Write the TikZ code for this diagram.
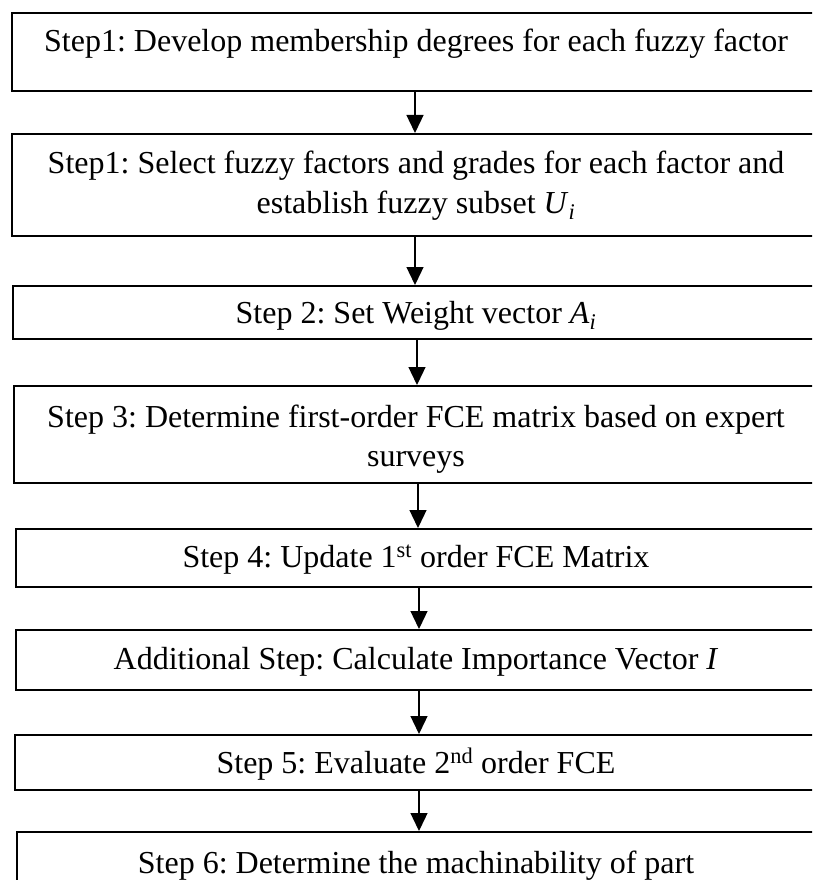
\documentclass[tikz,border=0pt]{standalone}
\usepackage{fontspec}
\setmainfont{Liberation Serif}
\usetikzlibrary{arrows.meta}
\frenchspacing
\begin{document}
\begin{tikzpicture}[x=1pt,y=-1pt,
  stepbox/.style={draw, rectangle, line width=1.8pt, inner sep=0pt,
                  minimum width=807pt, anchor=north west},
  steptext/.style={anchor=base, inner sep=0pt,
                   font=\fontsize{32}{40}\selectfont},
  flow/.style={line width=1.3pt, -{Triangle[width=17pt,length=18pt]}}]
\useasboundingbox (0,0) rectangle (812,880);
\clip (0,0) rectangle (812,880);

% step boxes (they run past the right edge)
\node[stepbox, minimum height=78pt]  (b1) at (11,12)  {};
\node[stepbox, minimum height=102pt] (b2) at (11,133) {};
\node[stepbox, minimum height=53pt]  (b3) at (12,285) {};
\node[stepbox, minimum height=97pt]  (b4) at (13,385) {};
\node[stepbox, minimum height=58pt]  (b5) at (15,528) {};
\node[stepbox, minimum height=60pt]  (b6) at (15,629) {};
\node[stepbox, minimum height=55pt]  (b7) at (14,734) {};
\node[stepbox, minimum height=80pt]  (b8) at (16,831) {};

% step texts
\node[steptext] (t1)  at (416,52)  {Step1: Develop membership degrees for each fuzzy factor};
\node[steptext] (t2a) at (416,173) {Step1: Select fuzzy factors and grades for each factor and};
\node[steptext] (t2b) at (416,213) {establish fuzzy subset \textit{U}\textsubscript{\textit{i}}};
\node[steptext] (t3)  at (416,323) {Step 2: Set Weight vector \textit{A}\textsubscript{\textit{i}}};
\node[steptext] (t4a) at (416,427) {Step 3: Determine first-order FCE matrix based on expert};
\node[steptext] (t4b) at (416,466) {surveys};
\node[steptext] (t5)  at (416,567) {Step 4: Update 1\textsuperscript{st} order FCE Matrix};
\node[steptext] (t6)  at (416,669) {Additional Step: Calculate Importance Vector \textit{I}};
\node[steptext] (t7)  at (416,773) {Step 5: Evaluate 2\textsuperscript{nd} order FCE};
\node[steptext] (t8)  at (416,873) {Step 6: Determine the machinability of part};

% connectors
\coordinate (x1) at (415,0);
\coordinate (x2) at (415,0);
\coordinate (x3) at (417,0);
\coordinate (x4) at (418,0);
\coordinate (x5) at (419,0);
\coordinate (x6) at (419,0);
\coordinate (x7) at (419,0);
\draw[flow] (b1.south -| x1) -- (b2.north -| x1);
\draw[flow] (b2.south -| x2) -- (b3.north -| x2);
\draw[flow] (b3.south -| x3) -- (b4.north -| x3);
\draw[flow] (b4.south -| x4) -- (b5.north -| x4);
\draw[flow] (b5.south -| x5) -- (b6.north -| x5);
\draw[flow] (b6.south -| x6) -- (b7.north -| x6);
\draw[flow] (b7.south -| x7) -- (b8.north -| x7);
\end{tikzpicture}
\end{document}
